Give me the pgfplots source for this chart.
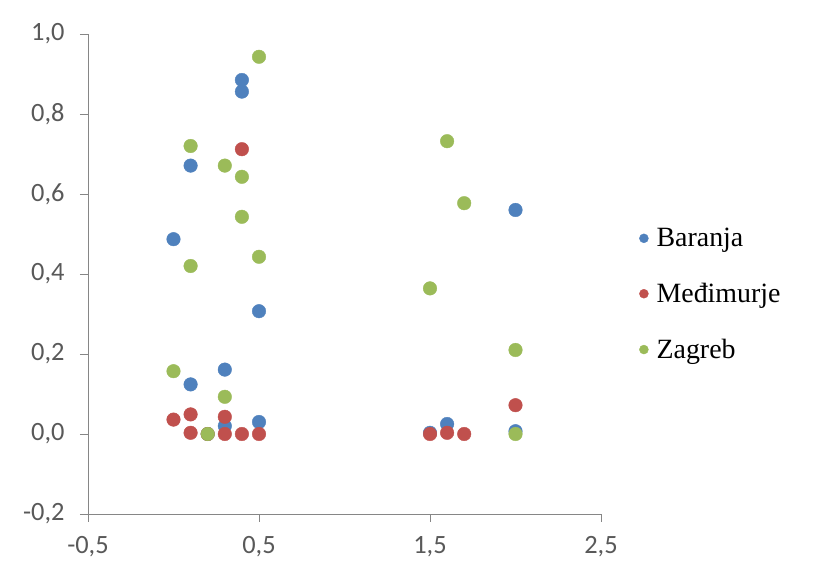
\documentclass[border=0pt]{standalone}
\usepackage{fontspec}
\setmainfont{Liberation Serif}
\newfontfamily\carlito{Carlito}
\usepackage{pgfplots}
\pgfplotsset{compat=1.18}
\definecolor{cB}{HTML}{4F81BD}
\definecolor{cM}{HTML}{C0504D}
\definecolor{cZ}{HTML}{9BBB59}
\definecolor{axgray}{HTML}{868686}
\definecolor{txtgray}{HTML}{595959}
\begin{document}
\begin{tikzpicture}
\path (0,0) rectangle (819bp,560bp);
\begin{axis}[
  at={(88bp,46bp)}, anchor=south west,
  scale only axis, width=513bp, height=480bp,
  xmin=-0.5, xmax=2.5, ymin=-0.2, ymax=1.0,
  xtick={-0.5,0.5,1.5,2.5}, ytick={-0.2,0,0.2,0.4,0.6,0.8,1.0},
  axis lines*=left,
  axis line style={draw=axgray, line width=0.9bp},
  tick style={draw=axgray, line width=0.9bp},
  tick align=outside, major tick length=8bp,
  every tick label/.append style={font=\carlito\fontsize{26.5}{30}\selectfont, text=txtgray},
  yticklabel style={xshift=-12bp},
  xticklabel style={yshift=-11bp},
  /pgf/number format/.cd, use comma, fixed, fixed zerofill, precision=1, assume math mode=true,
  /pgfplots/.cd,
  clip=false,
  legend style={at={(1,0.458)}, anchor=west, xshift=38bp, draw=none, fill=none,
    font=\fontsize{28}{32}\selectfont, row sep=31bp, inner sep=0pt},
  legend cell align=left,
  legend image code/.code={\fill (0bp,0bp) circle (4.5bp); \path (10.5bp,0bp);},
]
\addplot[only marks, mark=*, mark size=6.8bp, color=cB] coordinates {
(0,0.487) (0.1,0.671) (0.1,0.124) (0.2,0.0) (0.3,0.161) (0.3,0.02) (0.4,0.885) (0.4,0.856) (0.5,0.307) (0.5,0.03) (1.5,0.003) (1.6,0.025) (2.0,0.56) (2.0,0.007)};
\addlegendentry{Baranja}
\addplot[only marks, mark=*, mark size=6.8bp, color=cM] coordinates {
(0,0.036) (0.1,0.049) (0.1,0.003) (0.2,0.0) (0.3,0.043) (0.3,0.0) (0.4,0.712) (0.4,0.0) (0.5,0.0) (1.5,0.0) (1.6,0.003) (1.7,0.0) (2.0,0.072)};
\addlegendentry{Međimurje}
\addplot[only marks, mark=*, mark size=6.8bp, color=cZ] coordinates {
(0,0.157) (0.1,0.72) (0.1,0.42) (0.2,0.0) (0.3,0.671) (0.3,0.093) (0.4,0.643) (0.4,0.543) (0.5,0.943) (0.5,0.443) (1.5,0.364) (1.6,0.732) (1.7,0.577) (2.0,0.21) (2.0,0.0)};
\addlegendentry{Zagreb}
\end{axis}
\end{tikzpicture}
\end{document}
